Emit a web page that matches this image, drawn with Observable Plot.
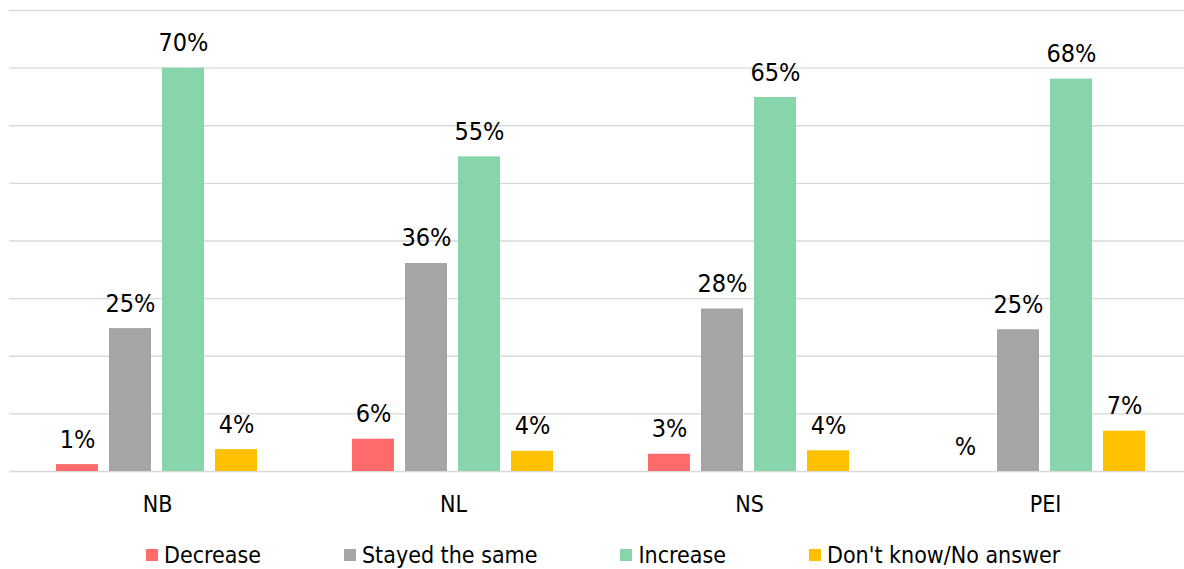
<!DOCTYPE html>
<html><head><meta charset="utf-8">
<script src="https://cdn.jsdelivr.net/npm/d3@7"></script>
<script src="https://cdn.jsdelivr.net/npm/@observablehq/plot@0.6"></script>
<style>
html,body{margin:0;padding:0;background:#fff;overflow:hidden;}
#chart{width:1184px;overflow:hidden;}
#chart svg{max-width:none !important;display:block;}
.legend{display:flex;align-items:center;height:30px;margin-top:15px;padding-left:146px;font-family:"DejaVu Sans Condensed","DejaVu Sans",sans-serif;font-stretch:condensed;font-size:23px;color:#000;white-space:nowrap;}
.legend .item{display:flex;align-items:center;margin-right:83px;}
.legend .sw{width:12px;height:12px;margin-right:6px;flex:none;}
</style></head><body>
<div id="chart"></div>
<script>
const groups = ["NB", "NL", "NS", "PEI"];
const series = ["Decrease", "Stayed the same", "Increase", "Don't know/No answer"];
const decrease = [1.2, 5.6, 3.0, null];
const stayedSame = [24.8, 36.1, 28.2, 24.6];
const increase = [70, 54.6, 64.9, 68.1];
const dontKnow = [3.8, 3.5, 3.6, 7.0];
const colors = ["#FF6B6B", "#A5A5A5", "#88D4AB", "#FFC000"];
const yTicks = [0, 10, 20, 30, 40, 50, 60, 70, 80];

const columns = [decrease, stayedSame, increase, dontKnow];
const data = groups.flatMap((g, i) => series.map((s, j) => ({group: g, series: s, value: columns[j][i]})));

const FONT = '"DejaVu Sans Condensed","DejaVu Sans",sans-serif';

const chart = Plot.plot({
  width: 1194,
  height: 525,
  marginLeft: 7,
  marginRight: 0,
  marginTop: 10,
  marginBottom: 54,
  style: {fontFamily: FONT, fontSize: "23px", color: "#000", background: "#fff", fontStretch: "condensed", maxWidth: "none"},
  fx: {domain: groups, padding: 0, label: null, axis: "bottom", tickSize: 0, tickPadding: 24},
  x: {domain: series, paddingInner: 0.204, paddingOuter: 0.847, axis: null},
  y: {domain: [0, 80], axis: null},
  color: {domain: series, range: colors},
  marks: [
    Plot.ruleY(yTicks, {stroke: "#d9d9d9", strokeWidth: 1.4}),
    Plot.barY(data.filter(d => d.value != null), {fx: "group", x: "series", y: "value", fill: "series"}),
    Plot.text(data, {
      fx: "group", x: "series", y: d => d.value ?? 0,
      text: d => (d.value == null ? "" : Math.round(d.value)) + "%",
      dy: -25, fontSize: 25, fill: "#000"
    })
  ]
});
chart.style.maxWidth = "none";
document.getElementById("chart").appendChild(chart);

const legend = document.createElement("div");
legend.className = "legend";
series.forEach((s, i) => {
  const item = document.createElement("div");
  item.className = "item";
  const sw = document.createElement("span");
  sw.className = "sw";
  sw.style.background = colors[i];
  const t = document.createElement("span");
  t.textContent = s;
  item.appendChild(sw);
  item.appendChild(t);
  legend.appendChild(item);
});
document.getElementById("chart").appendChild(legend);
</script>
</body></html>
